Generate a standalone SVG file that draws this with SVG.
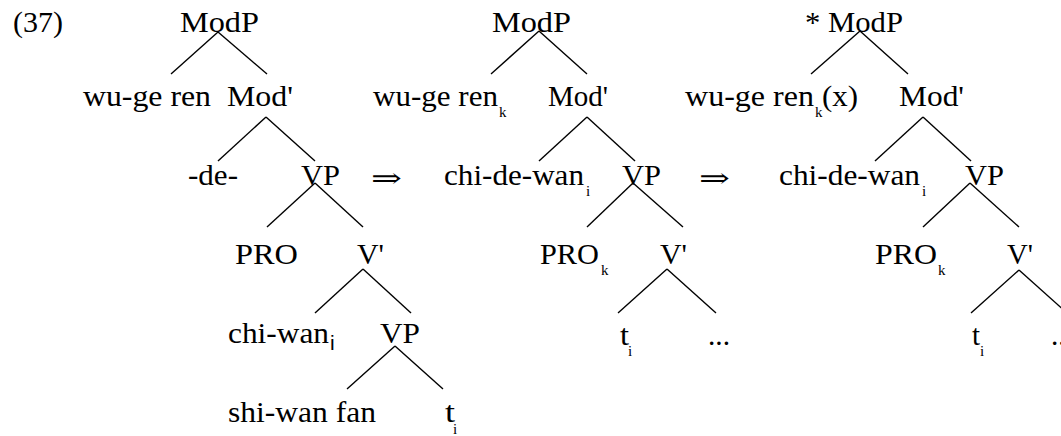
<svg xmlns="http://www.w3.org/2000/svg" width="1061" height="436" viewBox="0 0 1061 436">
<style>
.c line{stroke:#000;stroke-width:1.4;stroke-linecap:butt}
.n{font-family:"Liberation Serif","Times New Roman",serif;font-size:29px;fill:#000}
.s{font-family:"Liberation Serif","Times New Roman",serif;font-size:15px;fill:#000}
.a{font-family:"DejaVu Serif","DejaVu Sans",serif;font-size:26px;fill:#000}
.si{font-family:"Liberation Sans",Arial,sans-serif;font-size:21px;fill:#000}
</style>
<rect width="1061" height="436" fill="#fff"/>
<g id="connectors" class="c">
<line x1="218" y1="32" x2="171" y2="74"/><line x1="218" y1="32" x2="267" y2="74"/>
<line x1="266" y1="117" x2="218" y2="161"/><line x1="266" y1="117" x2="315" y2="161"/>
<line x1="315" y1="183" x2="267" y2="227"/><line x1="315" y1="183" x2="363" y2="227"/>
<line x1="363" y1="269" x2="315" y2="313"/><line x1="363" y1="269" x2="411" y2="313"/>
<line x1="395" y1="346" x2="347" y2="389"/><line x1="395" y1="346" x2="443" y2="389"/>
<line x1="539" y1="31" x2="491" y2="74"/><line x1="539" y1="31" x2="587" y2="74"/>
<line x1="587" y1="117" x2="539" y2="161"/><line x1="587" y1="117" x2="635" y2="161"/>
<line x1="633" y1="183" x2="587" y2="227"/><line x1="633" y1="183" x2="683" y2="227"/>
<line x1="667" y1="269" x2="618" y2="313"/><line x1="667" y1="269" x2="716" y2="313"/>
<line x1="860" y1="31" x2="811" y2="74"/><line x1="860" y1="31" x2="908" y2="74"/>
<line x1="923" y1="117" x2="875" y2="161"/><line x1="923" y1="117" x2="971" y2="161"/>
<line x1="970" y1="183" x2="923" y2="227"/><line x1="970" y1="183" x2="1019" y2="227"/>
<line x1="1019" y1="270" x2="971" y2="313"/><line x1="1019" y1="270" x2="1067" y2="313"/>
</g>
<g id="label-37"><text class="n" x="13" y="32" textLength="50" lengthAdjust="spacingAndGlyphs">(37)</text></g>
<g id="arrow1"><text class="a" x="371" y="187" textLength="31" lengthAdjust="spacingAndGlyphs">⇒</text></g>
<g id="arrow2"><text class="a" x="699" y="187" textLength="31" lengthAdjust="spacingAndGlyphs">⇒</text></g>
<g id="t1-modp"><text class="n" x="180" y="32" textLength="79" lengthAdjust="spacingAndGlyphs">ModP</text></g>
<g id="t1-wugeren"><text class="n" x="83" y="106" textLength="128" lengthAdjust="spacingAndGlyphs">wu-ge ren</text></g>
<g id="t1-modbar"><text class="n" x="227" y="106" textLength="66" lengthAdjust="spacingAndGlyphs">Mod'</text></g>
<g id="t1-de"><text class="n" x="188" y="185" textLength="50" lengthAdjust="spacingAndGlyphs">-de-</text></g>
<g id="t1-vp"><text class="n" x="301" y="185" textLength="39" lengthAdjust="spacingAndGlyphs">VP</text></g>
<g id="t1-pro"><text class="n" x="235" y="264" textLength="63" lengthAdjust="spacingAndGlyphs">PRO</text></g>
<g id="t1-vbar"><text class="n" x="357" y="264" textLength="27" lengthAdjust="spacingAndGlyphs">V'</text></g>
<g id="t1-chiwan"><text class="n" x="228" y="343" textLength="101" lengthAdjust="spacingAndGlyphs">chi-wan</text><text class="si" x="330" y="350">i</text></g>
<g id="t1-vp2"><text class="n" x="380" y="343" textLength="40" lengthAdjust="spacingAndGlyphs">VP</text></g>
<g id="t1-shiwanfan"><text class="n" x="228" y="422" textLength="148" lengthAdjust="spacingAndGlyphs">shi-wan fan</text></g>
<g id="t1-t"><text class="n" x="445" y="422" textLength="10" lengthAdjust="spacingAndGlyphs">t</text><text class="s" x="453" y="434">i</text></g>
<g id="t2-modp"><text class="n" x="492" y="32" textLength="79" lengthAdjust="spacingAndGlyphs">ModP</text></g>
<g id="t2-wugeren"><text class="n" x="373" y="106" textLength="125" lengthAdjust="spacingAndGlyphs">wu-ge ren</text><text class="s" x="499" y="117">k</text></g>
<g id="t2-modbar"><text class="n" x="548" y="106" textLength="60" lengthAdjust="spacingAndGlyphs">Mod'</text></g>
<g id="t2-chidewan"><text class="n" x="444" y="185" textLength="140" lengthAdjust="spacingAndGlyphs">chi-de-wan</text><text class="s" x="586" y="196">i</text></g>
<g id="t2-vp"><text class="n" x="622" y="185" textLength="39" lengthAdjust="spacingAndGlyphs">VP</text></g>
<g id="t2-pro"><text class="n" x="540" y="264" textLength="59" lengthAdjust="spacingAndGlyphs">PRO</text><text class="s" x="601" y="275">k</text></g>
<g id="t2-vbar"><text class="n" x="660" y="264" textLength="27" lengthAdjust="spacingAndGlyphs">V'</text></g>
<g id="t2-t"><text class="n" x="620" y="345" textLength="9" lengthAdjust="spacingAndGlyphs">t</text><text class="s" x="628" y="356">i</text></g>
<g id="t2-dots"><text class="n" x="708" y="345" textLength="22" lengthAdjust="spacingAndGlyphs">...</text></g>
<g id="t3-modp"><text class="n" x="805" y="32" textLength="98" lengthAdjust="spacingAndGlyphs">* ModP</text></g>
<g id="t3-wugeren"><text class="n" x="685" y="106" textLength="129" lengthAdjust="spacingAndGlyphs">wu-ge ren</text><text class="s" x="815" y="117">k</text><text class="n" x="822" y="106" textLength="36" lengthAdjust="spacingAndGlyphs">(x)</text></g>
<g id="t3-modbar"><text class="n" x="899" y="106" textLength="65" lengthAdjust="spacingAndGlyphs">Mod'</text></g>
<g id="t3-chidewan"><text class="n" x="779" y="185" textLength="141" lengthAdjust="spacingAndGlyphs">chi-de-wan</text><text class="s" x="922" y="196">i</text></g>
<g id="t3-vp"><text class="n" x="965" y="185" textLength="39" lengthAdjust="spacingAndGlyphs">VP</text></g>
<g id="t3-pro"><text class="n" x="875" y="264" textLength="62" lengthAdjust="spacingAndGlyphs">PRO</text><text class="s" x="938" y="275">k</text></g>
<g id="t3-vbar"><text class="n" x="1007" y="264" textLength="26" lengthAdjust="spacingAndGlyphs">V'</text></g>
<g id="t3-t"><text class="n" x="972" y="345" textLength="8" lengthAdjust="spacingAndGlyphs">t</text><text class="s" x="980" y="356">i</text></g>
<g id="t3-dots"><text class="n" x="1051" y="345" textLength="22" lengthAdjust="spacingAndGlyphs">...</text></g>
</svg>
